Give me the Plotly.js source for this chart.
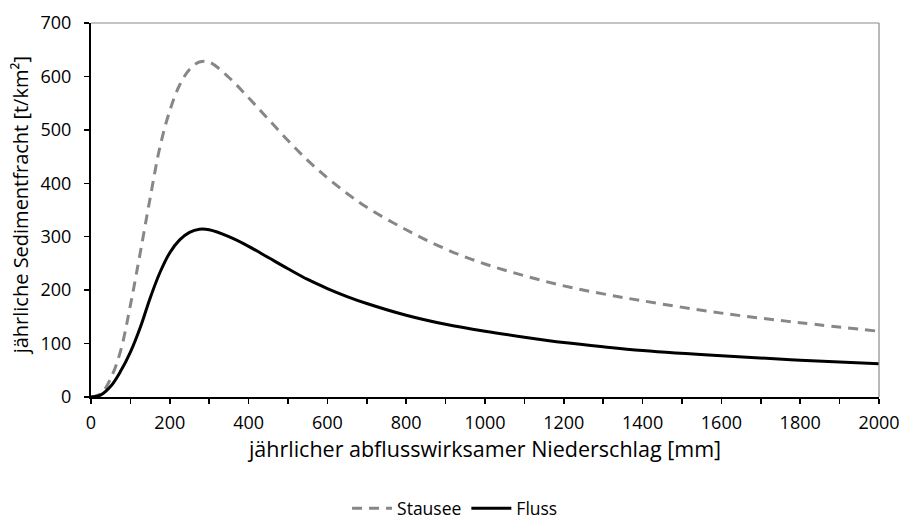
<!DOCTYPE html>
<html>
<head>
<meta charset="utf-8">
<script src="https://cdn.plot.ly/plotly-3.0.1.min.js"></script>
<style>html,body{margin:0;padding:0;background:#fff;}#chart{width:904px;height:520px;}</style>
</head>
<body>
<div id="chart"></div>
<script>
// Niederschlag [mm]
const niederschlag = [0, 25, 50, 75, 100, 125, 150, 175, 200, 225, 250, 275, 300, 350, 400, 450, 500, 550, 600, 650, 700, 800, 900, 1000, 1100, 1200, 1300, 1400, 1600, 1800, 2000];
// Stausee [t/km²]
const stausee = [0, 6, 35, 86, 172, 270, 372, 468, 536, 584, 613, 627, 627, 598, 560, 520, 480, 443, 410, 381, 355, 313, 277, 249, 227, 208, 193, 180, 157, 139, 123];
// Fluss [t/km²]
const fluss = [0, 4, 20, 48, 84, 130, 185, 233, 270, 294, 308, 314, 313, 300, 282, 261, 240, 220, 203, 188, 175, 153, 136, 123, 112, 102, 94, 87, 77, 69, 62];

const xTitle = 'jährlicher abflusswirksamer Niederschlag [mm]';
const yTitle = 'jährliche Sedimentfracht [t/km²]';

const fontFam = '"Open Sans", "Noto Sans", sans-serif';

const traces = [
  {x: niederschlag, y: stausee, name: 'Stausee', mode: 'lines',
   line: {color: '#878787', width: 3, dash: '10px,7px', shape: 'spline', smoothing: 1}},
  {x: niederschlag, y: fluss, name: 'Fluss', mode: 'lines',
   line: {color: '#000000', width: 3, shape: 'spline', smoothing: 1}}
];

const layout = {
  width: 904, height: 520,
  margin: {l: 91, r: 25, t: 23, b: 123, autoexpand: false},
  paper_bgcolor: '#fff', plot_bgcolor: '#fff',
  font: {family: fontFam, size: 18, color: '#000'},
  showlegend: true,
  legend: {orientation: 'h', x: 0.462, xanchor: 'center', y: -0.298, yanchor: 'middle',
           font: {family: fontFam, size: 17.5, color: '#000'}, traceorder: 'normal', itemwidth: 40},
  xaxis: {
    range: [0, 2000], tickmode: 'linear', tick0: 0, dtick: 200,
    showgrid: false, zeroline: false, showline: true, linecolor: '#000', linewidth: 2,
    ticks: 'outside', ticklen: 5, tickwidth: 1.5, tickcolor: '#000', ticklabelstandoff: 3,
    minor: {dtick: 100, ticks: 'outside', ticklen: 5, tickwidth: 1.5, tickcolor: '#000', showgrid: false},
    tickfont: {family: fontFam, size: 18, color: '#000'},
    title: {text: xTitle, font: {family: fontFam, size: 21.5, color: '#000'}, standoff: 8}
  },
  yaxis: {
    range: [0, 700], tickmode: 'linear', tick0: 0, dtick: 100,
    showgrid: false, zeroline: false, showline: true, linecolor: '#000', linewidth: 2,
    ticks: 'outside', ticklen: 5, tickwidth: 1.5, tickcolor: '#000', ticklabelstandoff: 9,
    tickfont: {family: fontFam, size: 18, color: '#000'}
  },
  annotations: [
    {text: yTitle, xref: 'paper', yref: 'paper', x: -0.09, y: 0.51, xanchor: 'center', yanchor: 'middle',
     textangle: -90, showarrow: false, font: {family: fontFam, size: 20, color: '#000'}}
  ],
  shapes: [
    {type: 'line', xref: 'paper', yref: 'paper', x0: 0, x1: 1, y0: 1, y1: 1, line: {color: '#8a8a8a', width: 1.2}},
    {type: 'line', xref: 'paper', yref: 'paper', x0: 1, x1: 1, y0: 0, y1: 1, line: {color: '#8a8a8a', width: 1.2}}
  ]
};

Plotly.newPlot('chart', traces, layout, {displayModeBar: false, staticPlot: true});
</script>
</body>
</html>
